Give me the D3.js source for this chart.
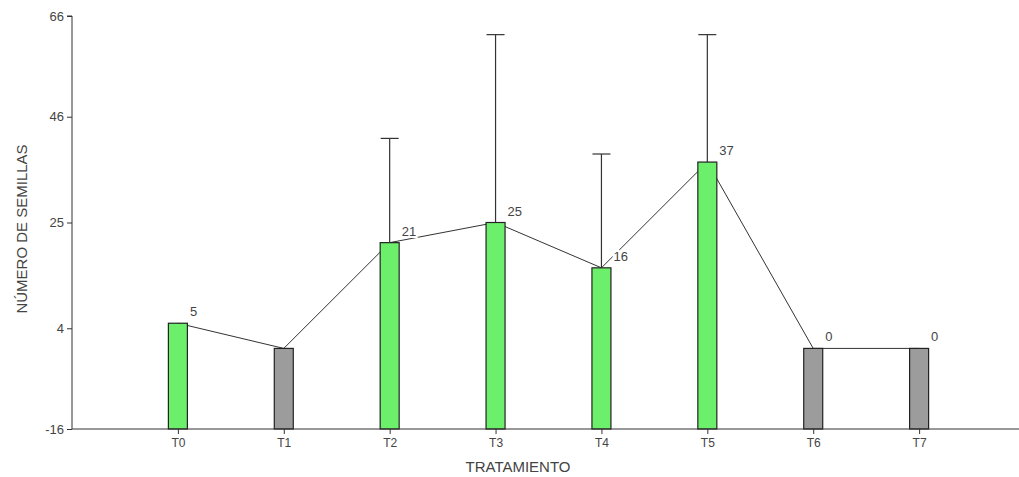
<!DOCTYPE html>
<html>
<head>
<meta charset="utf-8">
<script src="https://cdn.jsdelivr.net/npm/d3@7"></script>
<style>
  html, body { margin: 0; padding: 0; background: #fff; }
  svg { display: block; font-family: "Liberation Sans", Arial, sans-serif; }
</style>
</head>
<body>
<svg id="chart" width="1019" height="477"></svg>
<script>
// Seed counts per treatment
const categories = ["T0", "T1", "T2", "T3", "T4", "T5", "T6", "T7"];
const means      = [5, 0, 21, 25, 16, 37, 0, 0];
const errorTops  = [null, null, 41.7, 62.3, 38.6, 62.3, null, null];
const valueLabels = ["5", "", "21", "25", "16", "37", "0", "0"];
const yTicks     = [-16, 4, 25, 46, 66];
const yDomain    = [-16, 66];

const svg = d3.select("#chart");
const W = 1019;
const plotLeft = 72, plotTop = 16, plotBottom = 429;

const x = d3.scalePoint().domain(categories).range([plotLeft, 1025]).padding(1);
const y = d3.scaleLinear().domain(yDomain).range([plotBottom, plotTop]);

const barW = 19;
const ink = "#222";
const textCol = "#444";

// Connecting line through bar tops
const line = d3.line()
  .x((d, i) => x(categories[i]))
  .y(d => y(d));
svg.append("path")
  .datum(means)
  .attr("d", line)
  .attr("fill", "none")
  .attr("stroke", "#333")
  .attr("stroke-width", 1);

// Bars rising from the axis floor
svg.append("g").selectAll("rect")
  .data(means)
  .join("rect")
  .attr("x", (d, i) => x(categories[i]) - barW / 2)
  .attr("y", d => y(d))
  .attr("width", barW)
  .attr("height", d => y(yDomain[0]) - y(d))
  .attr("fill", d => d > 0 ? "#6cf06c" : "#9c9c9c")
  .attr("stroke", ink)
  .attr("stroke-width", 1.2);

// Upper error bars
const eb = svg.append("g").attr("stroke", "#333").attr("stroke-width", 1.2);
errorTops.forEach((e, i) => {
  if (e == null) return;
  const cx = x(categories[i]);
  eb.append("line").attr("x1", cx).attr("x2", cx).attr("y1", y(means[i])).attr("y2", y(e));
  eb.append("line").attr("x1", cx - 9).attr("x2", cx + 9).attr("y1", y(e)).attr("y2", y(e));
});

// Value labels with a white halo over the line
svg.append("g").selectAll("text")
  .data(valueLabels)
  .join("text")
  .attr("x", (d, i) => x(categories[i]) + 12)
  .attr("y", (d, i) => y(means[i]) - 7)
  .attr("font-size", 13)
  .attr("fill", textCol)
  .attr("stroke", "#fff")
  .attr("stroke-width", 4)
  .attr("paint-order", "stroke")
  .text(d => d);

// Y axis
const yAxis = svg.append("g")
  .attr("transform", `translate(${plotLeft},0)`)
  .call(d3.axisLeft(y).tickValues(yTicks).tickSize(5).tickPadding(3).tickFormat(d => String(d)));
yAxis.select(".domain").attr("d", `M-5,${plotTop}H0V${plotBottom}`).attr("stroke", "#333");
yAxis.selectAll(".tick line").attr("stroke", "#333");
yAxis.selectAll("text").attr("font-size", 13).attr("fill", textCol).attr("font-family", null);

// X axis
const xAxis = svg.append("g")
  .attr("transform", `translate(0,${plotBottom})`)
  .call(d3.axisBottom(x).tickSize(5).tickPadding(4));
xAxis.select(".domain").attr("d", `M${plotLeft},0H${W}`).attr("stroke", "#333");
xAxis.selectAll(".tick line").attr("stroke", "#333");
xAxis.selectAll("text").attr("font-size", 12).attr("fill", textCol).attr("font-family", null);

// Axis titles
svg.append("text")
  .attr("x", 518).attr("y", 472)
  .attr("text-anchor", "middle")
  .attr("font-size", 15)
  .attr("fill", textCol)
  .text("TRATAMIENTO");

svg.append("text")
  .attr("transform", "translate(27,229) rotate(-90)")
  .attr("text-anchor", "middle")
  .attr("font-size", 15)
  .attr("fill", textCol)
  .text("NÚMERO DE SEMILLAS");
</script>
</body>
</html>
